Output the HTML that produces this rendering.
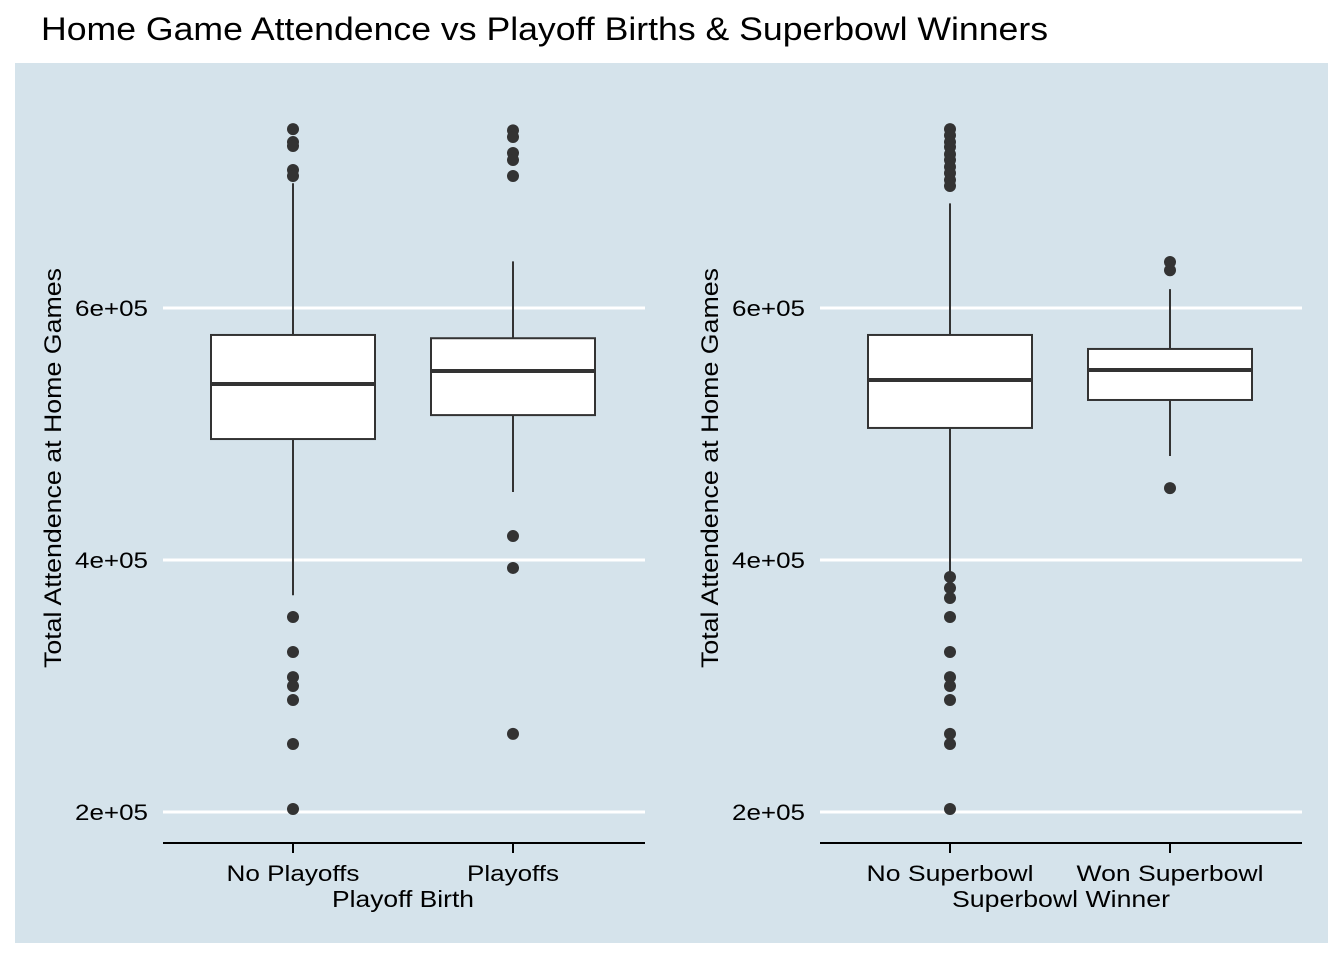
<!DOCTYPE html>
<html><head><meta charset="utf-8"><style>
body{margin:0;background:#fff}
svg text{font-family:"Liberation Sans",sans-serif;fill:#000}
</style></head><body>
<svg id="c" width="1344" height="960" xmlns="http://www.w3.org/2000/svg">
<rect x="15" y="63" width="1313" height="880" fill="#d5e3eb"/>
<text x="41" y="40" font-size="32" textLength="1007" lengthAdjust="spacingAndGlyphs">Home Game Attendence vs Playoff Births &amp; Superbowl Winners</text>
</svg>
<script>
const yTicks=[200000,400000,600000];
const tickLabels=["2e+05","4e+05","6e+05"];
const leftCats=["No Playoffs","Playoffs"];
const rightCats=["No Superbowl","Won Superbowl"];
const leftStats=[[372000,496000,539700,578600,699000],[454000,515000,550000,576000,637000]];
const rightStats=[[388000,504800,542900,578600,683000],[482500,527000,550800,567500,615000]];
const leftOutliers=[[742000,731700,728600,709500,704800,354800,327000,307000,300000,288900,254000,202400],[741000,735700,723000,717500,704800,419000,393700,262000]];
const rightOutliers=[[742000,737000,731700,727800,722000,717500,712000,707000,701600,696800,386500,377800,369800,354800,327000,307000,300000,288900,262000,254000,202400],[636500,630000,457000]];
const textWidths={"No Playoffs":133,"Playoffs":92,"No Superbowl":167,"Won Superbowl":187,"Playoff Birth":142,"Superbowl Winner":218};
const svg=document.getElementById('c');const NS="http://www.w3.org/2000/svg";
function y(v){return 812-(v-200000)*252/200000;}
function mk(t,a,p){const e=document.createElementNS(NS,t);for(const k in a)e.setAttribute(k,a[k]);(p||svg).appendChild(e);return e;}
function fit(t,len){t.setAttribute('textLength',len);t.setAttribute('lengthAdjust','spacingAndGlyphs');}
function panel(x0,cats,stats,outs,xtitle,pname){
  const g=mk('g',{});
  
  
  const x1=x0+482;
  yTicks.forEach((v,i)=>{
    const l=mk('line',{x1:x0,x2:x1,y1:y(v),y2:y(v),stroke:'#fff','stroke-width':3},g);
    
    
    const t=mk('text',{x:x0-15,y:y(v)+8,'font-size':22,'text-anchor':'end'},g);t.textContent=tickLabels[i];
    fit(t,73);
    
    
  });
  const ax=mk('line',{x1:x0,x2:x1,y1:843,y2:843,stroke:'#000','stroke-width':2},g);
  
  
  cats.forEach((c,i)=>{
    const cx=x0+130+i*220,s=stats[i];
    mk('line',{x1:cx,x2:cx,y1:843,y2:853,stroke:'#000','stroke-width':2},g);
    const t=mk('text',{x:cx,y:881,'font-size':22,'text-anchor':'middle'},g);t.textContent=c;
    fit(t,textWidths[c]);
    
    
    const w=mk('line',{x1:cx,x2:cx,y1:y(s[0]),y2:y(s[4]),stroke:'#333','stroke-width':2},g);
    
    
    const b=mk('rect',{x:cx-82,y:y(s[3]),width:164,height:y(s[1])-y(s[3]),fill:'#fff',stroke:'#333','stroke-width':2},g);
    
    
    const m=mk('line',{x1:cx-82,x2:cx+82,y1:y(s[2]),y2:y(s[2]),stroke:'#333','stroke-width':4},g);
    
    
    outs[i].forEach(v=>{const o=mk('circle',{cx:cx,cy:y(v),r:6,fill:'#333'},g);
      
      });
  });
  const xt=mk('text',{x:(x0===163?403:1061),y:907,'font-size':23,'text-anchor':'middle'},g);xt.textContent=xtitle;
  fit(xt,textWidths[xtitle]);
  
  
  const yt=mk('text',{x:0,y:0,'font-size':24,'text-anchor':'middle',transform:`translate(${x0-102},468) rotate(-90)`},g);yt.textContent="Total Attendence at Home Games";
  fit(yt,400);
  
  
}
panel(163,leftCats,leftStats,leftOutliers,"Playoff Birth","playoff-panel");
panel(820,rightCats,rightStats,rightOutliers,"Superbowl Winner","superbowl-panel");
</script>
</body></html>
